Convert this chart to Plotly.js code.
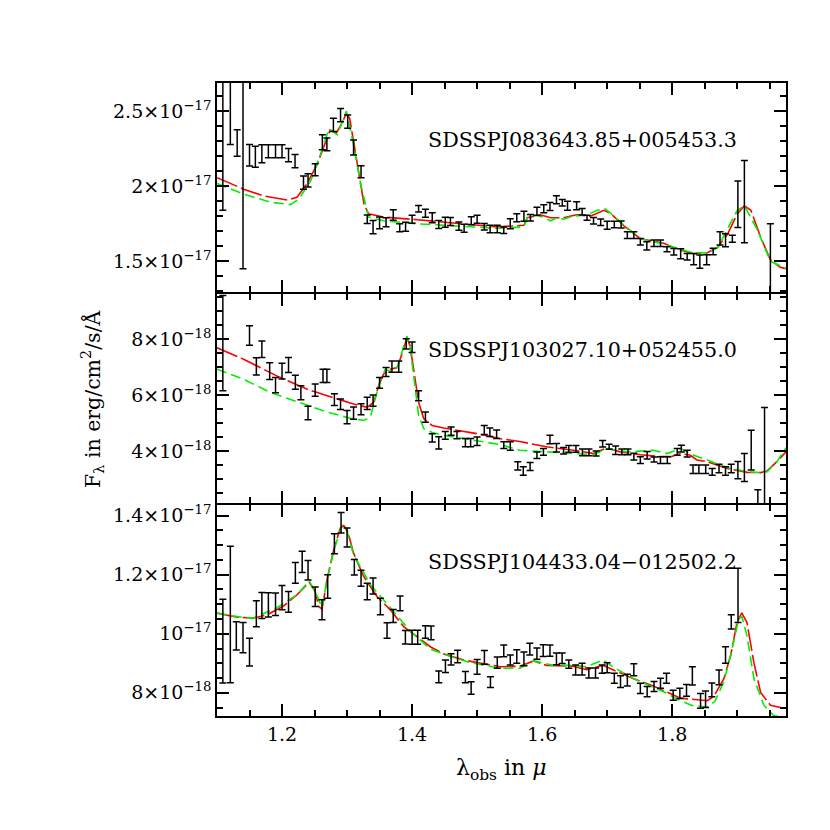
<!DOCTYPE html>
<html>
<head>
<meta charset="utf-8">
<script src="https://cdn.plot.ly/plotly-3.0.1.min.js"></script>
<style>html,body{margin:0;padding:0;background:#fff}#chart{width:830px;height:830px}</style>
</head>
<body>
<div id="chart"></div>
<script>
// ---------- Panel 1 : SDSSPJ083643.85+005453.3 (flux in 1e-17) ----------
const p1Name = "SDSSPJ083643.85+005453.3";
const p1X = [1.109,1.1205,1.131,1.140,1.150,1.159,1.169,1.179,1.190,1.200,1.210,1.220,1.233,1.240,1.251,1.262,1.269,1.279,1.290,1.301,1.310,1.3215,1.331,1.340,1.350,1.360,1.371,1.381,1.390,1.400,1.410,1.4205,1.431,1.441,1.451,1.459,1.472,1.480,1.491,1.500,1.511,1.520,1.531,1.541,1.551,1.561,1.572,1.582,1.592,1.6025,1.612,1.622,1.631,1.639,1.653,1.6615,1.669,1.679,1.690,1.700,1.711,1.7215,1.731,1.741,1.751,1.761,1.772,1.782,1.792,1.8025,1.813,1.823,1.833,1.8425,1.853,1.863,1.8735,1.882,1.8925,1.901,1.911,1.951];
const p1Y = [2.33,2.60,2.289,2.16,2.207,2.197,2.217,2.234,2.234,2.234,2.208,2.168,2.025,2.04,2.11,2.295,2.28,2.41,2.476,2.432,2.26,2.097,1.78,1.728,1.756,1.76,1.808,1.723,1.73,1.78,1.85,1.82,1.79,1.745,1.76,1.765,1.734,1.72,1.77,1.78,1.73,1.715,1.715,1.707,1.75,1.79,1.80,1.79,1.833,1.85,1.865,1.91,1.89,1.87,1.87,1.83,1.79,1.77,1.76,1.74,1.745,1.745,1.674,1.674,1.63,1.602,1.62,1.62,1.58,1.563,1.55,1.53,1.514,1.497,1.51,1.565,1.652,1.64,1.65,1.88,1.898,1.43];
const p1Err = [0.49,0.32,0.088,0.71,0.072,0.07,0.06,0.044,0.044,0.044,0.044,0.044,0.044,0.044,0.04,0.05,0.042,0.044,0.044,0.044,0.05,0.04,0.028,0.044,0.04,0.03,0.035,0.027,0.03,0.027,0.022,0.027,0.033,0.027,0.033,0.027,0.027,0.027,0.027,0.027,0.022,0.025,0.025,0.022,0.033,0.027,0.033,0.022,0.027,0.027,0.027,0.027,0.022,0.03,0.027,0.022,0.017,0.022,0.022,0.027,0.022,0.024,0.022,0.022,0.022,0.028,0.022,0.022,0.017,0.022,0.033,0.022,0.038,0.044,0.033,0.022,0.044,0.044,0.024,0.155,0.275,0.32];
const p1RedX = [1.1,1.141,1.171,1.208,1.223,1.238,1.254,1.2666,1.274,1.2835,1.292,1.299,1.304,1.310,1.318,1.326,1.333,1.356,1.408,1.4486,1.531,1.572,1.577,1.597,1.613,1.633,1.653,1.674,1.695,1.705,1.726,1.751,1.787,1.808,1.833,1.853,1.8695,1.885,1.900,1.911,1.921,1.936,1.951,1.966,1.975];
const p1RedY = [2.058,1.981,1.937,1.909,1.927,2.014,2.146,2.30,2.377,2.355,2.421,2.487,2.454,2.30,2.08,1.882,1.816,1.795,1.777,1.76,1.729,1.74,1.79,1.81,1.79,1.79,1.81,1.80,1.84,1.82,1.735,1.65,1.62,1.58,1.55,1.555,1.59,1.68,1.816,1.87,1.84,1.66,1.51,1.46,1.45];
const p1GrnX = [1.1,1.141,1.182,1.213,1.226,1.244,1.259,1.272,1.285,1.299,1.310,1.321,1.333,1.356,1.408,1.449,1.531,1.572,1.577,1.592,1.613,1.623,1.633,1.646,1.669,1.685,1.697,1.708,1.726,1.751,1.787,1.828,1.853,1.87,1.9,1.911,1.931,1.951,1.975];
const p1GrnY = [2.019,1.948,1.894,1.878,1.915,2.036,2.212,2.384,2.344,2.502,2.278,2.014,1.795,1.77,1.75,1.74,1.72,1.729,1.79,1.81,1.77,1.79,1.78,1.80,1.81,1.84,1.85,1.81,1.74,1.65,1.615,1.56,1.555,1.59,1.84,1.87,1.71,1.50,1.45];

// ---------- Panel 2 : SDSSPJ103027.10+052455.0 (flux in 1e-18) ----------
const p2Name = "SDSSPJ103027.10+052455.0";
const p2X = [1.109,1.150,1.1605,1.169,1.181,1.190,1.200,1.210,1.2205,1.229,1.240,1.251,1.263,1.269,1.2805,1.290,1.300,1.310,1.3215,1.331,1.340,1.350,1.360,1.369,1.3795,1.391,1.400,1.410,1.4205,1.431,1.441,1.451,1.460,1.469,1.482,1.490,1.500,1.511,1.5196,1.530,1.541,1.551,1.5625,1.571,1.5815,1.592,1.602,1.612,1.622,1.633,1.641,1.652,1.662,1.672,1.683,1.693,1.703,1.713,1.7226,1.732,1.741,1.751,1.7615,1.772,1.782,1.7925,1.8077,1.814,1.823,1.832,1.841,1.8515,1.8615,1.872,1.882,1.8908,1.901,1.911,1.9215,1.9317,1.942];
const p2Y = [7.85,8.12,7.02,7.63,6.85,6.35,6.85,7.07,6.45,6.08,5.36,6.17,6.68,6.68,5.83,5.67,5.21,5.35,5.49,5.70,5.80,6.43,6.82,7.01,7.01,7.82,7.70,5.97,5.21,4.47,4.29,4.56,4.71,4.57,4.30,4.30,4.35,4.75,4.67,4.60,4.21,4.18,3.47,3.29,3.45,3.85,3.97,4.41,4.12,4.01,4.08,4.08,3.95,3.95,3.91,4.26,4.15,4.03,3.97,3.97,3.80,3.68,3.85,3.70,3.68,3.68,3.97,4.09,3.91,3.35,3.35,3.35,3.26,3.38,3.29,3.38,3.32,3.41,4.03,2.15,3.15];
const p2Err = [1.7,0.35,0.31,0.29,0.30,0.27,0.28,0.27,0.25,0.25,0.24,0.22,0.24,0.24,0.21,0.19,0.24,0.22,0.20,0.22,0.20,0.19,0.16,0.20,0.20,0.18,0.19,0.18,0.18,0.15,0.22,0.14,0.15,0.13,0.15,0.15,0.15,0.16,0.15,0.15,0.12,0.15,0.15,0.15,0.14,0.12,0.12,0.15,0.15,0.12,0.12,0.12,0.12,0.12,0.09,0.12,0.09,0.15,0.10,0.10,0.12,0.12,0.13,0.09,0.12,0.12,0.12,0.12,0.12,0.15,0.15,0.15,0.12,0.15,0.15,0.15,0.31,0.50,0.71,0.47,2.4];
const p2RedX = [1.1,1.141,1.192,1.238,1.2846,1.310,1.331,1.341,1.3486,1.356,1.3666,1.377,1.386,1.392,1.397,1.4035,1.410,1.418,1.431,1.4486,1.5,1.536,1.5656,1.6066,1.627,1.658,1.679,1.6995,1.72,1.751,1.7825,1.798,1.8128,1.828,1.838,1.854,1.8846,1.9154,1.936,1.946,1.961,1.975];
const p2RedY = [7.68,7.27,6.68,6.21,5.86,5.68,5.56,5.74,6.33,6.74,6.92,6.98,7.56,8.04,7.75,6.80,5.74,5.15,4.91,4.82,4.62,4.44,4.34,4.15,4.09,4.00,3.91,4.11,3.97,3.87,3.80,3.80,3.91,3.85,3.68,3.62,3.38,3.24,3.23,3.29,3.62,3.97];
const p2GrnX = [1.1,1.141,1.182,1.223,1.269,1.305,1.326,1.336,1.3436,1.3513,1.359,1.3666,1.377,1.3846,1.392,1.397,1.4035,1.410,1.418,1.431,1.4486,1.5,1.536,1.5656,1.6066,1.6476,1.679,1.6995,1.7303,1.771,1.792,1.8128,1.833,1.854,1.8846,1.9154,1.936,1.946,1.961,1.975];
const p2GrnY = [6.92,6.56,6.09,5.76,5.39,5.17,5.09,5.22,5.86,6.56,6.92,6.85,6.98,7.51,8.09,7.70,6.45,5.27,4.80,4.66,4.56,4.38,4.23,4.03,3.97,3.93,3.87,4.09,3.97,4.03,3.91,4.09,3.85,3.68,3.41,3.26,3.23,3.26,3.62,4.12];

// ---------- Panel 3 : SDSSPJ104433.04-012502.2 (flux in 1e-17) ----------
const p3Name = "SDSSPJ104433.04\u2212012502.2";
const p3X = [1.109,1.1205,1.1297,1.140,1.150,1.1605,1.169,1.179,1.190,1.200,1.210,1.2205,1.231,1.240,1.251,1.2615,1.2702,1.2805,1.2908,1.300,1.3112,1.3215,1.331,1.340,1.3512,1.3615,1.371,1.3815,1.3897,1.400,1.4086,1.4205,1.4292,1.441,1.4513,1.460,1.470,1.482,1.4908,1.500,1.5112,1.5205,1.531,1.541,1.551,1.561,1.572,1.581,1.592,1.6016,1.612,1.622,1.6307,1.641,1.6515,1.6615,1.6718,1.6821,1.6923,1.700,1.711,1.7205,1.731,1.741,1.751,1.7615,1.772,1.782,1.7912,1.8015,1.8118,1.822,1.831,1.8436,1.8513,1.861,1.872,1.882,1.8908,1.9012];
const p3Y = [0.975,1.065,0.993,0.987,0.938,1.068,1.096,1.098,1.100,1.122,1.108,1.206,1.243,1.215,1.125,1.081,1.160,1.305,1.376,1.326,1.225,1.188,1.143,1.162,1.092,1.011,1.060,1.103,0.988,0.988,0.988,1.006,1.003,0.854,0.890,0.913,0.923,0.853,0.816,0.888,0.920,0.836,0.902,0.942,0.911,0.923,0.915,0.948,0.933,0.943,0.943,0.915,0.917,0.897,0.877,0.880,0.867,0.867,0.880,0.885,0.849,0.838,0.843,0.878,0.815,0.804,0.821,0.832,0.849,0.792,0.798,0.808,0.857,0.773,0.778,0.810,0.852,0.928,1.040,1.130];
const p3Err = [0.142,0.231,0.048,0.051,0.047,0.044,0.044,0.041,0.038,0.041,0.035,0.035,0.036,0.033,0.033,0.034,0.040,0.034,0.035,0.032,0.026,0.027,0.028,0.027,0.028,0.026,0.022,0.025,0.023,0.024,0.024,0.021,0.023,0.020,0.021,0.019,0.021,0.019,0.021,0.025,0.023,0.018,0.019,0.020,0.017,0.023,0.023,0.020,0.019,0.020,0.019,0.020,0.018,0.014,0.017,0.020,0.017,0.017,0.014,0.017,0.017,0.020,0.020,0.020,0.017,0.017,0.017,0.017,0.017,0.017,0.017,0.020,0.031,0.025,0.028,0.023,0.025,0.028,0.024,0.092];
const p3RedX = [1.1,1.131,1.156,1.177,1.2025,1.223,1.2418,1.251,1.2564,1.2615,1.2692,1.2795,1.2897,1.295,1.301,1.310,1.3256,1.346,1.3666,1.387,1.4077,1.428,1.449,1.4795,1.5103,1.536,1.5656,1.587,1.6066,1.6476,1.668,1.6936,1.709,1.74,1.771,1.797,1.8128,1.8538,1.864,1.8795,1.89,1.8997,1.907,1.915,1.9256,1.936,1.951,1.9666];
const p3RedY = [1.07,1.056,1.053,1.064,1.094,1.132,1.174,1.143,1.092,1.083,1.183,1.285,1.358,1.366,1.347,1.273,1.194,1.126,1.081,1.024,0.99,0.956,0.931,0.911,0.898,0.888,0.89,0.908,0.893,0.89,0.878,0.893,0.878,0.848,0.823,0.798,0.782,0.773,0.788,0.848,0.928,1.038,1.071,1.038,0.902,0.801,0.758,0.75];
const p3GrnX = [1.1,1.131,1.156,1.192,1.223,1.2418,1.251,1.2615,1.2692,1.2805,1.2923,1.3,1.31,1.336,1.3666,1.3975,1.428,1.459,1.4897,1.536,1.5656,1.587,1.617,1.6476,1.668,1.6936,1.709,1.74,1.792,1.8077,1.833,1.8538,1.866,1.8795,1.89,1.902,1.907,1.915,1.9256,1.941,1.956,1.977];
const p3GrnY = [1.07,1.058,1.053,1.088,1.132,1.178,1.143,1.088,1.183,1.288,1.368,1.347,1.268,1.166,1.088,1.008,0.948,0.923,0.902,0.883,0.883,0.908,0.893,0.893,0.888,0.911,0.888,0.848,0.798,0.778,0.755,0.752,0.772,0.838,0.928,1.048,1.06,0.993,0.848,0.758,0.723,0.713];

// ---------- tick labels ----------
const p1TickVals = [1.5e-17, 2e-17, 2.5e-17];
const p1TickText = ["1.5\u00d710<sup>\u221217</sup>", "2\u00d710<sup>\u221217</sup>", "2.5\u00d710<sup>\u221217</sup>"];
const p2TickVals = [4e-18, 6e-18, 8e-18];
const p2TickText = ["4\u00d710<sup>\u221218</sup>", "6\u00d710<sup>\u221218</sup>", "8\u00d710<sup>\u221218</sup>"];
const p3TickVals = [8e-18, 1e-17, 1.2e-17, 1.4e-17];
const p3TickText = ["8\u00d710<sup>\u221218</sup>", "10<sup>\u221217</sup>", "1.2\u00d710<sup>\u221217</sup>", "1.4\u00d710<sup>\u221217</sup>"];
const xTickVals = [1.2, 1.4, 1.6, 1.8];
const xTickText = ["1.2", "1.4", "1.6", "1.8"];

const FONT = "DejaVu Serif, Liberation Serif, serif";
const sc = (arr, s) => arr.map(v => v * s);

const XR = [1.1, 1.975];
const Y1R = [1.293e-17, 2.69e-17];
const Y2R = [2.14e-18, 9.6e-18];
const Y3R = [0.7214e-17, 1.436e-17];
const LW = 1.8;           // frame line width
const PH = 633;           // plot height in px
const OV = LW / PH;       // shift so that shared panel borders coincide

const panels = [
  {x:p1X, y:p1Y, e:p1Err, rx:p1RedX, ry:p1RedY, gx:p1GrnX, gy:p1GrnY, s:1e-17, xa:'x3', ya:'y3'},
  {x:p2X, y:p2Y, e:p2Err, rx:p2RedX, ry:p2RedY, gx:p2GrnX, gy:p2GrnY, s:1e-18, xa:'x2', ya:'y2'},
  {x:p3X, y:p3Y, e:p3Err, rx:p3RedX, ry:p3RedY, gx:p3GrnX, gy:p3GrnY, s:1e-17, xa:'x', ya:'y'}
];
const traces = [];
panels.forEach(p => {
  traces.push({x:p.rx, y:sc(p.ry,p.s), xaxis:p.xa, yaxis:p.ya, mode:'lines', type:'scatter',
    line:{color:'#ff0000', width:1.6, dash:'22px,4px'}, hoverinfo:'skip'});
  traces.push({x:p.gx, y:sc(p.gy,p.s), xaxis:p.xa, yaxis:p.ya, mode:'lines', type:'scatter',
    line:{color:'#00ee00', width:1.6, dash:'10px,5px'}, hoverinfo:'skip'});
  traces.push({x:p.x, y:sc(p.y,p.s), xaxis:p.xa, yaxis:p.ya, mode:'markers', type:'scatter',
    marker:{size:2, color:'rgba(0,0,0,0)'},
    error_y:{type:'data', array:sc(p.e,p.s), visible:true, color:'#000000', thickness:1.5, width:3.5}});
});
// empty traces so the minor-tick overlay axes exist
[['x4','y'],['x','y4'],['x5','y2'],['x2','y5'],['x6','y3'],['x3','y6']].forEach(a => {
  traces.push({x:[], y:[], xaxis:a[0], yaxis:a[1], type:'scatter', mode:'markers', hoverinfo:'skip', showlegend:false});
});

const common = {showgrid:false, zeroline:false, type:'linear', fixedrange:true, layer:'above traces'};
const xMain = Object.assign({}, common, {range:XR, showline:true, linecolor:'black', linewidth:LW,
  mirror:'ticks', ticks:'inside', ticklen:12, tickwidth:2, tickcolor:'black',
  tickmode:'array', tickvals:xTickVals, ticktext:xTickText,
  tickfont:{family:FONT, size:19, color:'black'}});
const yMain = Object.assign({}, common, {showline:true, linecolor:'black', linewidth:LW,
  mirror:'ticks', ticks:'inside', ticklen:12, tickwidth:2, tickcolor:'black', tickmode:'array',
  tickfont:{family:FONT, size:19, color:'black'}});
const minorAx = (ov, anc, rng, t0, dt, side) => Object.assign({}, common, {overlaying:ov, anchor:anc, range:rng,
  side:side, showline:false, mirror:'ticks', ticks:'inside', ticklen:6, tickwidth:2, tickcolor:'black',
  tickmode:'linear', tick0:t0, dtick:dt, showticklabels:false});

const layout = {
  width:830, height:830, showlegend:false,
  paper_bgcolor:'white', plot_bgcolor:'white',
  margin:{l:217, r:44, t:83, b:114},
  font:{family:FONT, color:'black'},
  xaxis: Object.assign({}, xMain, {anchor:'y', domain:[0,1], showticklabels:true}),
  xaxis2: Object.assign({}, xMain, {anchor:'y2', domain:[0,1], showticklabels:false}),
  xaxis3: Object.assign({}, xMain, {anchor:'y3', domain:[0,1], showticklabels:false}),
  yaxis: Object.assign({}, yMain, {anchor:'x', domain:[0,1/3], range:Y3R, tickvals:p3TickVals, ticktext:p3TickText}),
  yaxis2: Object.assign({}, yMain, {anchor:'x2', domain:[1/3+OV,2/3], range:Y2R, tickvals:p2TickVals, ticktext:p2TickText}),
  yaxis3: Object.assign({}, yMain, {anchor:'x3', domain:[2/3+OV,1], range:Y1R, tickvals:p1TickVals, ticktext:p1TickText}),
  xaxis4: minorAx('x', 'y', XR, 1.1, 0.05, 'bottom'),
  xaxis5: minorAx('x2', 'y2', XR, 1.1, 0.05, 'bottom'),
  xaxis6: minorAx('x3', 'y3', XR, 1.1, 0.05, 'bottom'),
  yaxis4: minorAx('y', 'x', Y3R, 0, 0.05e-17, 'left'),
  yaxis5: minorAx('y2', 'x2', Y2R, 0, 0.5e-18, 'left'),
  yaxis6: minorAx('y3', 'x3', Y1R, 0, 0.1e-17, 'left'),
  annotations:[
    {text:p1Name, xref:'x3', yref:'paper', x:1.422, y:0.910, xanchor:'left', yanchor:'middle', showarrow:false, font:{family:FONT, size:20.7, color:'black'}},
    {text:p2Name, xref:'x2', yref:'paper', x:1.422, y:0.5782, xanchor:'left', yanchor:'middle', showarrow:false, font:{family:FONT, size:20.7, color:'black'}},
    {text:p3Name, xref:'x', yref:'paper', x:1.422, y:0.2438, xanchor:'left', yanchor:'middle', showarrow:false, font:{family:FONT, size:20.7, color:'black'}},
    {text:"\u03bb<sub>obs</sub> in <i>\u03bc</i>", xref:'paper', yref:'paper', x:0.5, y:-0.0853, xanchor:'center', yanchor:'middle', showarrow:false, font:{family:FONT, size:22, color:'black'}},
    {text:"F<sub>\u03bb</sub> in erg/cm<sup>2</sup>/s/\u00c5", xref:'paper', yref:'paper', x:-0.218, y:0.5008, xanchor:'center', yanchor:'middle', textangle:-90, showarrow:false, font:{family:FONT, size:20.5, color:'black'}}
  ]
};

Plotly.newPlot('chart', traces, layout, {displayModeBar:false, staticPlot:true});
</script>
</body>
</html>
